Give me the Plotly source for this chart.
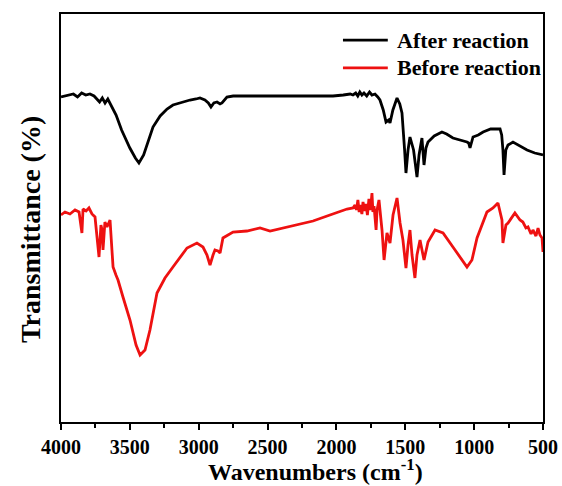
import plotly.graph_objects as go

# Wavenumbers (cm^-1) and transmittance (arbitrary units)
after_wn = [4000, 3970, 3940, 3910, 3880, 3850, 3820, 3790, 3760, 3740, 3720, 3700, 3680, 3660, 3640,
            3630, 3600, 3560, 3500, 3460, 3434, 3400, 3360, 3332, 3280, 3230, 3187, 3120, 3063, 3020,
            2991, 2955, 2930, 2911, 2890, 2867, 2845, 2831, 2810, 2795, 2750, 2700, 2600, 2500, 2400,
            2264, 2150, 2025, 1950, 1900, 1880, 1860, 1845, 1830, 1815, 1800, 1780, 1760, 1742, 1720,
            1700, 1684, 1660, 1640, 1620, 1611, 1590, 1560, 1540, 1524, 1505, 1495, 1480, 1466, 1440,
            1415, 1400, 1379, 1364, 1350, 1335, 1290, 1234, 1200, 1154, 1100, 1052, 1040, 1030, 1008,
            970, 935, 880, 812, 800, 791, 783, 770, 754, 718, 670, 616, 560, 507, 500]
after_t = [325, 326, 327, 328, 325, 329, 327, 328, 326, 323, 320, 324, 319, 323, 318,
           315, 307, 292, 274, 264, 259, 267, 284, 295, 306, 313, 317, 320, 322, 323,
           324, 322, 319, 315, 319, 320, 318, 319, 323, 325, 326, 326, 326, 326, 326,
           326, 326, 326, 327, 328, 327, 329, 326, 330, 327, 329, 326, 330, 327, 328,
           325, 322, 312, 300, 302, 299, 312, 324, 318, 309, 272, 249, 272, 285, 272,
           245, 267, 284, 257, 274, 280, 286, 290, 288, 284, 282, 280, 279, 274, 285,
           287, 290, 293, 293, 287, 272, 247, 272, 277, 280, 276, 272, 269, 267, 267]

before_wn = [4000, 3971, 3935, 3898, 3869, 3848, 3840, 3818, 3797, 3775, 3753, 3739, 3724, 3710, 3702,
             3695, 3681, 3666, 3644, 3630, 3622, 3601, 3586, 3550, 3499, 3455, 3426, 3390, 3354, 3303,
             3245, 3187, 3085, 3013, 2969, 2940, 2918, 2896, 2882, 2860, 2845, 2824, 2751, 2650, 2555,
             2482, 2359, 2265, 2170, 2047, 1923, 1880, 1865, 1855, 1844, 1835, 1829, 1815, 1807, 1795,
             1785, 1775, 1764, 1752, 1742, 1735, 1727, 1712, 1705, 1691, 1669, 1654, 1633, 1611, 1589,
             1560, 1538, 1517, 1495, 1480, 1466, 1451, 1430, 1415, 1393, 1364, 1335, 1284, 1226, 1154,
             1088, 1052, 1016, 979, 907, 863, 827, 798, 791, 769, 754, 704, 667, 646, 624,
             609, 587, 573, 551, 536, 522, 507, 500]
before_t = [207, 210, 208, 212, 210, 189, 213, 211, 214, 208, 205, 182, 165, 197, 192,
            172, 200, 195, 202, 172, 155, 147, 142, 125, 102, 77, 67, 72, 92, 129,
            144, 155, 174, 179, 175, 167, 157, 167, 172, 171, 169, 184, 190, 191, 194,
            191, 195, 198, 201, 207, 213, 214, 217, 212, 222, 210, 217, 208, 220, 211,
            218, 207, 223, 212, 229, 210, 216, 192, 212, 222, 192, 162, 189, 179, 207,
            224, 199, 182, 154, 177, 192, 167, 144, 167, 182, 162, 180, 192, 189, 175,
            162, 155, 162, 184, 210, 214, 219, 202, 179, 197, 199, 209, 202, 200, 194,
            195, 188, 192, 186, 194, 187, 184, 170]

series_names = ["After reaction", "Before reaction"]
series_colors = ["black", "#ee1111"]
tick_vals = [4000, 3500, 3000, 2500, 2000, 1500, 1000, 500]
minor_vals = [3750, 3250, 2750, 2250, 1750, 1250, 750]

FONT = "Times New Roman, Liberation Serif, serif"

fig = go.Figure()
fig.add_trace(go.Scatter(x=after_wn, y=after_t, mode="lines", name=series_names[0],
                         line=dict(color=series_colors[0], width=2.8)))
fig.add_trace(go.Scatter(x=before_wn, y=before_t, mode="lines", name=series_names[1],
                         line=dict(color=series_colors[1], width=2.8)))

# Manual legend (line sample + label) placed in paper coordinates
legend_y = [0.936, 0.868]
for name, col, yy in zip(series_names, series_colors, legend_y):
    fig.add_shape(type="line", xref="paper", yref="paper", x0=0.585, x1=0.678, y0=yy, y1=yy,
                  line=dict(color=col, width=2.8))
    fig.add_annotation(xref="paper", yref="paper", x=0.693, y=yy, text=name, showarrow=False,
                       xanchor="left", yanchor="middle",
                       font=dict(family=FONT, size=22, color="black", weight="bold"))

# Axis titles as annotations
fig.add_annotation(xref="paper", yref="paper", x=-0.063, y=0.472, text="Transmittance (%)",
                   textangle=-90, showarrow=False, xanchor="center", yanchor="middle",
                   font=dict(family=FONT, size=28, color="black", weight="bold"))
fig.add_annotation(xref="paper", yref="paper", x=0.529, y=-0.118,
                   text="Wavenumbers (cm<sup>-1</sup>)",
                   showarrow=False, xanchor="center", yanchor="middle",
                   font=dict(family=FONT, size=24, color="black", weight="bold"))

fig.update_layout(
    width=562, height=486,
    margin=dict(l=61, r=19, t=14, b=64),
    paper_bgcolor="white", plot_bgcolor="white",
    font=dict(family=FONT, color="black", size=20, weight="bold"),
    showlegend=False,
    xaxis=dict(range=[4000, 500], tickmode="array", tickvals=tick_vals,
               showline=True, linecolor="black", linewidth=2, mirror=True,
               ticks="outside", ticklen=6, tickwidth=2, tickcolor="black",
               minor=dict(tickvals=minor_vals, ticks="outside", ticklen=4,
                          tickwidth=2, tickcolor="black"),
               showgrid=False, zeroline=False, ticklabelstandoff=0, automargin=False,
               ticklabeloverflow="allow",
               tickfont=dict(family=FONT, size=20, weight="bold")),
    yaxis=dict(range=[0, 408], showline=True, linecolor="black", linewidth=2, mirror=True,
               showticklabels=False, ticks="", showgrid=False, zeroline=False, automargin=False),
)

fig.write_html("out.html")
